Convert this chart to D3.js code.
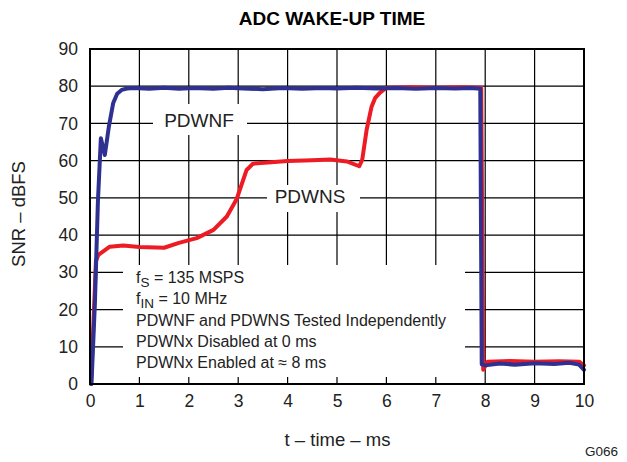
<!DOCTYPE html>
<html><head><meta charset="utf-8">
<script src="https://cdn.jsdelivr.net/npm/d3@7"></script>
<style>body{margin:0;background:#fff}svg{display:block}text{font-family:"Liberation Sans",Arial,sans-serif;fill:#222}</style>
</head><body><svg id="c" width="627" height="462"></svg>
<script>
const xTicks = [0,1,2,3,4,5,6,7,8,9,10];
const yTicks = [0,10,20,30,40,50,60,70,80,90];
const fTime = [0.03,0.10,0.16,0.22,0.30,0.38,0.47,0.55,0.64,0.75,0.9,1.2,1.5,1.8,2.1,2.5,2.8,3.1,3.5,3.9,4.3,4.7,5.0,5.4,5.8,6.2,6.6,7.0,7.4,7.7,7.9,7.93,8.0,8.3,8.6,9.0,9.4,9.7,9.9,10.0];
const fSNR  = [0,22,49,66,61.5,69,75.5,78,79.0,79.4,79.5,79.3,79.6,79.3,79.5,79.3,79.6,79.4,79.2,79.5,79.3,79.5,79.4,79.6,79.4,79.5,79.3,79.5,79.4,79.5,79.3,5.3,5.0,5.5,5.2,5.6,5.4,5.7,5.2,3.8];
const sTime = [0.02,0.12,0.17,0.4,0.67,1.0,1.5,1.8,2.16,2.5,2.77,2.97,3.17,3.3,3.6,4.0,4.5,4.86,5.2,5.45,5.51,5.6,5.7,5.77,5.87,6.0,6.5,7.0,7.5,7.92,7.96,8.05,8.5,9.0,9.5,9.9,10.0];
const sSNR  = [0,33,34.7,36.9,37.2,36.8,36.6,37.9,39.2,41.4,45,49.7,57.5,59.2,59.5,59.9,60.1,60.3,59.8,58.5,60.2,68.3,74.5,76.8,78.3,79.6,79.7,79.6,79.7,79.6,3.8,6.0,6.2,6.0,6.1,6.0,5.0];
const notes = [["f","S"," = 135 MSPS"],["f","IN"," = 10 MHz"],["PDWNF and PDWNS Tested Independently"],["PDWNx Disabled at 0 ms"],["PDWNx Enabled at \u2248 8 ms"]];

const svg = d3.select("#c");
const L=90,R=584,T=49,B=384;
const x = d3.scaleLinear().domain([0,10]).range([L,R]);
const y = d3.scaleLinear().domain([0,90]).range([B,T]);

svg.append("text").attr("x",332).attr("y",25).attr("text-anchor","middle")
  .style("font-weight","bold").style("font-size","19px").style("fill","#000").text("ADC WAKE-UP TIME");

// grid
const g = svg.append("g");
g.selectAll(".vx").data(xTicks.slice(1,-1)).join("line")
  .attr("x1",d=>x(d)).attr("x2",d=>x(d)).attr("y1",T).attr("y2",B).attr("stroke","#000").attr("stroke-width",1.2);
g.selectAll(".hy").data(yTicks.slice(1,-1)).join("line")
  .attr("y1",d=>y(d)).attr("y2",d=>y(d)).attr("x1",L).attr("x2",R).attr("stroke","#000").attr("stroke-width",1.2);

// masks behind labels
svg.append("rect").attr("x",153).attr("y",104).attr("width",94).attr("height",31).attr("fill","#fff");
svg.append("rect").attr("x",267).attr("y",185).attr("width",93).attr("height",27).attr("fill","#fff");
svg.append("rect").attr("x",123).attr("y",265).attr("width",342).attr("height",112).attr("fill","#fff");

// axes labels
const xa = d3.axisBottom(x).tickValues(xTicks).tickSize(0).tickPadding(11).tickFormat(d3.format("d"));
const xg = svg.append("g").attr("transform",`translate(0,${B})`).call(xa);
const ya = d3.axisLeft(y).tickValues(yTicks).tickSize(0).tickPadding(11).tickFormat(d3.format("d"));
const yg = svg.append("g").attr("transform",`translate(${L-1},0)`).call(ya);
[xg,yg].forEach(a=>{a.select(".domain").remove();a.selectAll("text").style("font-size","17.5px").style("fill","#222").style("font-family","'Liberation Sans',Arial,sans-serif");});

// curves
const line = d3.line().x(d=>x(d[0])).y(d=>y(d[1]));
svg.append("path").datum(sTime.map((t,i)=>[t,sSNR[i]])).attr("d",line)
  .attr("fill","none").attr("stroke","#ed1c24").attr("stroke-width",4).attr("stroke-linejoin","round").attr("stroke-linecap","round");
svg.append("path").datum(fTime.map((t,i)=>[t,fSNR[i]])).attr("d",line)
  .attr("fill","none").attr("stroke","#2e3192").attr("stroke-width",4).attr("stroke-linejoin","round").attr("stroke-linecap","round");

// frame
svg.append("rect").attr("x",L).attr("y",T).attr("width",R-L).attr("height",B-T)
  .attr("fill","none").attr("stroke","#000").attr("stroke-width",2);

// labels
svg.append("text").attr("x",199).attr("y",126.5).attr("text-anchor","middle").style("font-size","19px").text("PDWNF");
svg.append("text").attr("x",310).attr("y",202.5).attr("text-anchor","middle").style("font-size","19px").text("PDWNS");

const nt = svg.append("g").style("font-size","16px");
notes.forEach((n,i)=>{
  const t = nt.append("text").attr("x",136).attr("y",283+i*21.3);
  if(n.length===3){
    t.append("tspan").text(n[0]);
    t.append("tspan").attr("dy",4).style("font-size","13.5px").text(n[1]);
    t.append("tspan").attr("dy",-4).text(n[2]);
  } else t.text(n[0]);
});

svg.append("text").attr("x",337.5).attr("y",446).attr("text-anchor","middle").style("font-size","18.5px").text("t \u2013 time \u2013 ms");
svg.append("text").attr("transform","translate(25,214) rotate(-90)").attr("text-anchor","middle").style("font-size","18.5px").text("SNR \u2013 dBFS");
svg.append("text").attr("x",618).attr("y",456).attr("text-anchor","end").style("font-size","13.5px").text("G066");
</script></body></html>
